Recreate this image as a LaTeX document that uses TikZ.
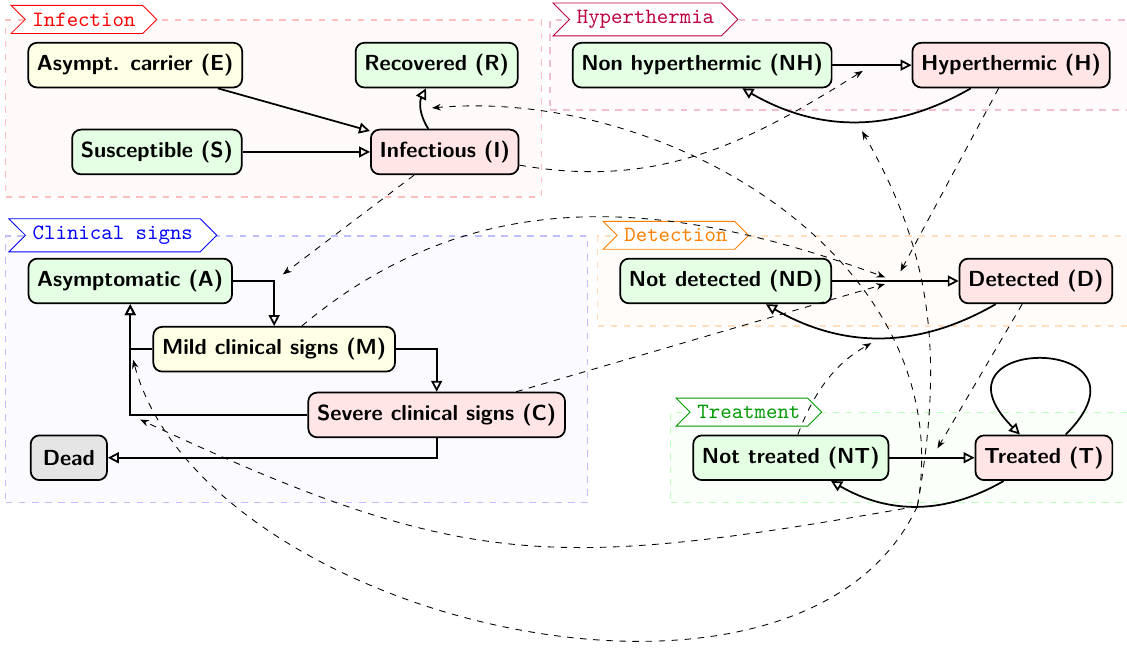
\documentclass[tikz,border=0pt]{standalone}
\usepackage{tikz}
\usetikzlibrary{arrows.meta}
\usetikzlibrary{shapes.symbols}
\usetikzlibrary{fit}
\usetikzlibrary{backgrounds}
\definecolor{okgreen}{rgb}{0.9,1,0.9}
\definecolor{badred}{rgb}{1,0.9,0.9}
\definecolor{midyellow}{rgb}{1,1,0.9}
\definecolor{deadgray}{rgb}{0.9,0.9,0.9}
\tikzset{
  comp/.style={draw, thick, rounded corners=4pt, font=\sffamily\bfseries,
    minimum height=20.5pt, inner xsep=4pt},
  trans/.style={thick, -{Triangle[open,length=5pt,width=5pt]}},
  infl/.style={thin, dashed, -{Stealth[length=4pt,width=3pt]}, shorten >=5pt},
  group/.style={draw=#1!25, fill=#1!2, dashed, semithick, inner sep=10pt},
  tag/.style={signal, signal from=west, signal to=east, draw=#1, text=#1,
    fill=white, font=\ttfamily, anchor=west}
}

\begin{document}
\begin{tikzpicture}
  \useasboundingbox (0,0) rectangle (18.17,-10.45);

  %% infection
  \node[comp,fill=midyellow] (E) at (2.18,-1.05) {Asympt. carrier (E)};
  \node[comp,fill=okgreen] (R) at (7.04,-1.05) {Recovered (R)};
  \node[comp,fill=okgreen] (S) at (2.53,-2.45) {Susceptible (S)};
  \node[comp,fill=badred] (I) at (7.17,-2.45) {Infectious (I)};
  %% hyperthermia
  \node[comp,fill=okgreen] (NH) at (11.32,-1.05) {Non hyperthermic (NH)};
  \node[comp,fill=badred] (H) at (16.30,-1.05) {Hyperthermic (H)};
  %% clinical signs
  \node[comp,fill=okgreen] (A) at (2.10,-4.53) {Asymptomatic (A)};
  \node[comp,fill=midyellow] (M) at (4.42,-5.63) {Mild clinical signs (M)};
  \node[comp,fill=badred] (C) at (7.04,-6.69) {Severe clinical signs (C)};
  \node[comp,fill=deadgray,minimum width=35pt] (Dead) at (1.11,-7.38) {Dead};
  %% detection
  \node[comp,fill=okgreen] (ND) at (11.70,-4.53) {Not detected (ND)};
  \node[comp,fill=badred] (D) at (16.70,-4.53) {Detected (D)};
  %% treatment
  \node[comp,fill=okgreen] (NT) at (12.75,-7.38) {Not treated (NT)};
  \node[comp,fill=badred] (T) at (16.83,-7.38) {Treated (T)};

  \begin{scope}[on background layer]
    \node[group=red, fit=(E)(R)(S)(I)] (infection) {};
    \node[group=purple, fit=(NH)(H)] (hyperthermia) {};
    \node[group=blue, fit=(A)(M)(C)(Dead)] (clinical) {};
    \node[group=orange, fit=(ND)(D)] (detection) {};
    \node[group=green, fit=(NT)(T)] (treatment) {};
  \end{scope}
  \node[tag=red] (tinf) at ([xshift=9pt]infection.north west) {Infection};
  \node[tag=purple] (thyp) at ([xshift=9pt]hyperthermia.north west) {Hyperthermia};
  \node[tag=blue] (tcli) at ([xshift=9pt]clinical.north west) {Clinical signs};
  \node[tag=orange] (tdet) at ([xshift=9pt]detection.north west) {Detection};
  \node[tag=green!60!black] (ttre) at ([xshift=9pt]treatment.north west) {Treatment};

  %% transitions
  \draw[trans] (E) -- (I);
  \draw[trans] (S) -- (I);
  \draw[trans] (I) to[bend left=30] coordinate[pos=.5] (ir) (R);
  \draw[trans] (NH) -- coordinate[pos=.5] (nhh) (H);
  \draw[trans] (H) to[bend left=30] coordinate[pos=.5] (hnh) (NH);
  \draw[trans] (A) -| coordinate[pos=.5] (am) (M);
  \draw[trans] (M) -| (C);
  \draw[trans] (M) -| coordinate[pos=.5] (ma) (A);
  \draw[trans] (C) -| coordinate[pos=.5] (ca) (A);
  \draw[trans] (C) |- (Dead);
  \draw[trans] (ND) -- coordinate[pos=.5] (ndd) (D);
  \draw[trans] (D) to[bend left=30] coordinate[pos=.5] (dnd) (ND);
  \draw[trans] (NT) -- coordinate[pos=.5] (ntt) (T);
  \draw[trans] (T) to[bend left=30] coordinate[pos=.5] (tnt) (NT);
  \draw[trans] ([xshift=10pt]T.north) to[out=45,in=135,looseness=8] ([xshift=-11pt]T.north);

  %% influences
  \draw[infl] (I) -- (am);
  \draw[infl] (I) to[out=-10,in=212] (nhh);
  \draw[infl] (H) -- (ndd);
  \draw[infl] (M) to[out=40,in=160] (ndd);
  \draw[infl] (C) -- (ndd);
  \draw[infl] (D) -- (ntt);
  \draw[infl] (NT) to[bend left=20] (dnd);
  \draw[infl] (tnt) to[out=80,in=5] (ir);
  \draw[infl] (tnt) to[out=80,in=-60] (hnh);
  \draw[infl] (tnt) to[out=190,in=-25,looseness=1.2] (ca);
  \draw[infl] (tnt) to[out=-115,in=-75,looseness=.9] (ma);
\end{tikzpicture}
\end{document}
